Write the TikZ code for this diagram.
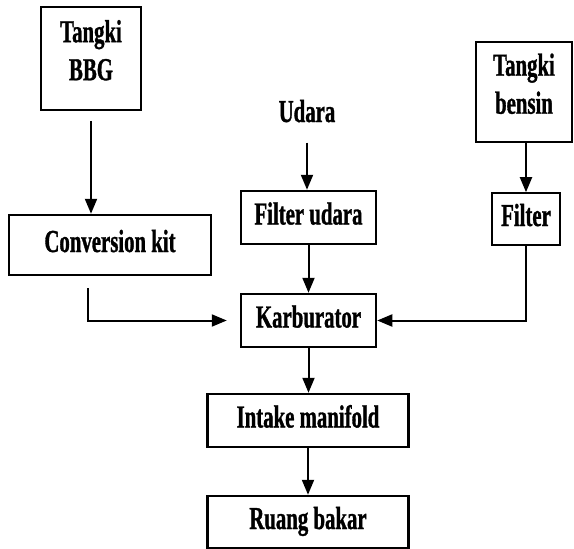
\documentclass[tikz,border=0pt]{standalone}
\usepackage{fontspec}
\setmainfont{Liberation Serif}[FakeStretch=0.65, FakeBold=1]
\usetikzlibrary{arrows.meta}

\newcommand{\tanktext}[1]{\parbox[c][77pt][t]{90pt}{\centering #1}}

\begin{document}
\begin{tikzpicture}[
        x=1pt, y=-1pt,
        font=\fontsize{32}{38}\selectfont\bfseries,
        box/.style={draw, line width=2.5pt, inner sep=0pt, text height=22pt, text depth=8pt},
        thinbox/.style={draw, line width=1.6pt, inner sep=0pt, text height=22pt, text depth=8pt},
        tank/.style={draw, line width=1.6pt, inner sep=0pt},
        flow/.style={-{Triangle[length=15pt, width=12pt]}, line width=2pt}
    ]
        \useasboundingbox (0,0) rectangle (574,549);

        % Sources
        \node[tank, minimum width=100pt, minimum height=103pt] (bbg) at (91,58.5) {\tanktext{Tangki\\BBG}};
        \node[tank, minimum width=96pt, minimum height=100pt] (bensin) at (524,92) {\tanktext{Tangki\\bensin}};
        \node[anchor=base, inner sep=0pt] (udara) at (307,122) {Udara};

        % Processing chain
        \node[box, minimum width=202pt, minimum height=60pt] (conv) at (110,245) {Conversion kit};
        \node[box, minimum width=135pt, minimum height=53pt] (fu) at (308.5,217.5) {Filter udara};
        \node[thinbox, minimum width=68pt, minimum height=52pt] (filter) at (526,219) {Filter};
        \node[box, minimum width=135pt, minimum height=53pt] (karb) at (308.5,320.5) {Karburator};
        \node[box, minimum width=201pt, minimum height=53pt] (intake) at (308,420.5) {Intake manifold};
        \node[box, minimum width=201pt, minimum height=52pt] (ruang) at (308,522) {Ruang bakar};

        % Flows
        \draw[flow, shorten <=10pt] (bbg.south) -- (bbg.south |- conv.north);
        \draw[flow, shorten <=20pt] (udara.south) -- (udara.south |- fu.north);
        \draw[flow] (fu) -- (karb);
        \draw[flow] (filter.north |- bensin.south) -- (filter.north);
        \draw[flow] (filter.south) |- (karb.east);
        \draw[flow, shorten <=12pt, shorten >=13pt] ([xshift=-22pt]conv.south) |- (karb.west);
        \draw[flow] (karb.south) -- (karb.south |- intake.north);
        \draw[flow] (intake) -- (ruang);
    \end{tikzpicture}
\end{document}
